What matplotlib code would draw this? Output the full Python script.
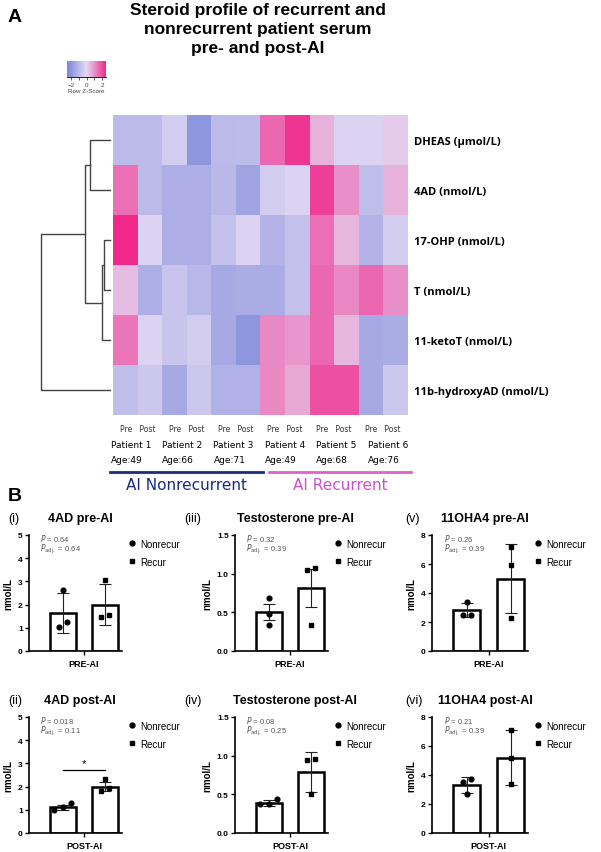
import numpy as np
import matplotlib
matplotlib.use("Agg")
import matplotlib.pyplot as plt
from matplotlib.colors import LinearSegmentedColormap
from matplotlib.lines import Line2D

# ---- heatmap data (row z-scores) ----
steroids = ["DHEAS (µmol/L)", "4AD (nmol/L)", "17-OHP (nmol/L)", "T (nmol/L)",
            "11-ketoT (nmol/L)", "11b-hydroxyAD (nmol/L)"]
patients = ["Patient 1", "Patient 2", "Patient 3", "Patient 4", "Patient 5", "Patient 6"]
ages = [49, 66, 71, 49, 68, 76]
zscores = [
    [-0.95, -0.95, -0.40, -2.00, -0.95, -0.90, 1.60, 2.30, 0.55, -0.20, -0.20, 0.20],
    [1.50, -0.95, -1.30, -1.30, -1.00, -1.60, -0.40, -0.20, 2.15, 1.05, -0.85, 0.55],
    [2.50, -0.20, -1.30, -1.30, -0.75, -0.20, -1.15, -0.75, 1.50, 0.50, -1.15, -0.40],
    [0.42, -1.30, -0.65, -1.05, -1.45, -1.35, -1.35, -0.75, 1.60, 1.15, 1.60, 1.05],
    [1.40, -0.20, -0.65, -0.40, -1.45, -2.00, 1.15, 0.95, 1.60, 0.50, -1.45, -1.35],
    [-0.85, -0.55, -1.45, -0.55, -1.20, -1.20, 1.15, 0.70, 1.95, 1.95, -1.45, -0.55],
]
# row dendrogram: (left node, right node, merge height)
linkage = [(2, 3, 0.6), (6, 4, 0.8), (0, 1, 2.1), (8, 7, 2.6), (9, 5, 7.2)]

# ---- bar panel data, order (i)..(vi) ----
numerals = ["(i)", "(ii)", "(iii)", "(iv)", "(v)", "(vi)"]
panel_titles = ["4AD pre-AI", "4AD post-AI", "Testosterone pre-AI", "Testosterone post-AI",
                "11OHA4 pre-AI", "11OHA4 post-AI"]
x_labels = ["PRE-AI", "POST-AI", "PRE-AI", "POST-AI", "PRE-AI", "POST-AI"]
nonrec_mean = [1.65, 1.10, 0.50, 0.39, 2.80, 3.30]
nonrec_err = [0.87, 0.10, 0.105, 0.04, 0.48, 0.55]
recur_mean = [2.00, 2.00, 0.82, 0.79, 5.00, 5.20]
recur_err = [0.88, 0.18, 0.245, 0.26, 2.40, 1.87]
nonrec_pts = [[2.65, 1.25, 1.05], [1.28, 0.97, 1.10], [0.69, 0.48, 0.33],
              [0.44, 0.37, 0.38], [3.40, 2.50, 2.50], [3.70, 3.55, 2.70]]
recur_pts = [[3.05, 1.55, 1.45], [2.33, 1.95, 1.82], [1.07, 1.05, 0.34],
             [0.96, 0.95, 0.50], [7.20, 5.90, 2.30], [7.10, 5.20, 3.35]]
p_vals = ["0.64", "0.018", "0.32", "0.08", "0.26", "0.21"]
padj_vals = ["0.64", "0.11", "0.39", "0.25", "0.39", "0.39"]
y_max = [5, 5, 1.5, 1.5, 8, 8]
y_step = [1, 1, 0.5, 0.5, 2, 2]
sig_marks = [None, "*", None, None, None, None]
sig_level = [None, 2.7, None, None, None, None]

W, H = 601, 853
fig = plt.figure(figsize=(W / 100, H / 100), dpi=100)
plt.rcParams["font.family"] = ["Liberation Sans", "DejaVu Sans"]


def ax_px(x0, y0, x1, y1):
    return fig.add_axes([x0 / W, 1 - y1 / H, (x1 - x0) / W, (y1 - y0) / H])


def txt(x, y, s, **kw):
    fig.text(x / W, 1 - y / H, s, **kw)


def hline(x0, x1, y, **kw):
    fig.add_artist(Line2D([x0 / W, x1 / W], [1 - y / H, 1 - y / H],
                          transform=fig.transFigure, **kw))


cmap = LinearSegmentedColormap.from_list("zs", ["#7a87d8", "#e4daf4", "#f0288a"])

# ---------------- panel A ----------------
txt(8, 17, "A", fontsize=14, fontweight="bold", va="center")
for i, line in enumerate(["Steroid profile of recurrent and",
                          "nonrecurrent patient serum", "pre- and post-AI"]):
    txt(258, 10 + i * 19.5, line, fontsize=12.5, fontweight="bold", ha="center", va="center")

cb = ax_px(67, 62, 106, 78)
cb.imshow(np.linspace(-2.5, 2.5, 200).reshape(1, -1), cmap=cmap, aspect="auto",
          extent=(-2.5, 2.5, 0, 1))
cb.set_yticks([])
cb.set_xticks([-2, -1, 0, 1, 2])
cb.set_xticklabels(["\u22122", "", "0", "", "2"], fontsize=4.5, color="#444")
cb.tick_params(axis="x", length=2, width=0.6, pad=1.5, color="#444")
for s in ["top", "left", "right"]:
    cb.spines[s].set_visible(False)
cb.spines["bottom"].set_linewidth(0.6)
cb.set_xlabel("Row Z-Score", fontsize=4.5, color="#444", labelpad=1)

hm = ax_px(113, 116, 407, 416)
hm.imshow(np.array(zscores), cmap=cmap, vmin=-2.5, vmax=2.5, aspect="auto",
          interpolation="nearest")
hm.set_xticks([])
hm.yaxis.tick_right()
hm.set_yticks(range(len(steroids)))
hm.set_yticklabels(steroids, fontsize=8, fontweight="bold", family="Open Sans")
hm.tick_params(axis="y", length=0, pad=5)
for s in hm.spines.values():
    s.set_visible(False)
for k, (pat, age) in enumerate(zip(patients, ages)):
    cx = 2 * k + 0.5
    left = 2 * k - 0.6 + 0.1 * k
    hm.text(cx, 5.78, "Pre   Post", fontsize=5.5, ha="center", va="center", color="#333",
            family="DejaVu Sans")
    hm.text(left, 6.1, pat, fontsize=6.5, ha="left", va="center", family="DejaVu Sans")
    hm.text(left, 6.4, f"Age:{age}", fontsize=6.5, ha="left", va="center",
            family="DejaVu Sans")

dn = ax_px(38, 116, 113, 416)
pos = {i: (0.0, float(i)) for i in range(len(steroids))}
for n, (a, b, h) in enumerate(linkage):
    ha_, ya = pos[a]
    hb, yb = pos[b]
    dn.plot([ha_, h, h, hb], [ya, ya, yb, yb], color="#444", lw=1)
    pos[len(steroids) + n] = (h, (ya + yb) / 2)
dn.set_xlim(7.5, -0.3)
dn.set_ylim(len(steroids) - 0.5, -0.5)
dn.axis("off")

hline(110, 263, 473, color="#1c2a80", lw=2)
hline(269, 411, 473, color="#e063c4", lw=2)
txt(187, 486, "AI Nonrecurrent", fontsize=11, ha="center", va="center",
    color="#1c2a80", family="DejaVu Sans")
txt(340, 486, "AI Recurrent", fontsize=11, ha="center", va="center",
    color="#d050cc", family="DejaVu Sans")

# ---------------- panel B ----------------
txt(8, 497, "B", fontsize=14, fontweight="bold", va="center")
col_x = [(29, 122), (235, 328), (432, 528)]
row_y = [(536, 652), (718, 834)]
num_x = [8, 184, 405]
title_x = [80, 295, 485]


def spread(vals, tol):
    # horizontal offsets for points whose values sit close together
    offs = [0.0] * len(vals)
    order = np.argsort(vals)
    groups, cur = [], [order[0]]
    for j in order[1:]:
        if abs(vals[j] - vals[cur[-1]]) < tol:
            cur.append(j)
        else:
            groups.append(cur)
            cur = [j]
    groups.append(cur)
    for g in groups:
        for m, j in enumerate(g):
            offs[j] = (m - (len(g) - 1) / 2) * 0.2
    return offs


for i in range(6):
    c, r = i // 2, i % 2
    x0, x1 = col_x[c]
    y0, y1 = row_y[r]
    ax = ax_px(x0, y0, x1, y1)
    txt(num_x[c], y0 - 17, numerals[i], fontsize=9, va="center")
    txt(title_x[c], y0 - 17, panel_titles[i], fontsize=9, fontweight="bold",
        ha="center", va="center")

    xs = [-0.5, 0.5]
    means = [nonrec_mean[i], recur_mean[i]]
    errs = [nonrec_err[i], recur_err[i]]
    ax.bar(xs, means, width=0.62, color="white", edgecolor="black", linewidth=1.8, zorder=2)
    ax.errorbar(xs, means, yerr=errs, fmt="none", ecolor="#222", elinewidth=0.8,
                capsize=4.5, capthick=0.8, zorder=3)
    tol = y_max[i] * 0.045
    for xc, pts, mk, ms in [(xs[0], nonrec_pts[i], "o", 3.4), (xs[1], recur_pts[i], "s", 3.4)]:
        offs = spread(pts, tol)
        ax.plot([xc + o for o in offs], pts, mk, color="black", ms=ms, zorder=4, ls="none")
    if sig_marks[i]:
        ax.plot(xs, [sig_level[i]] * 2, color="black", lw=0.9)
        ax.text(0, sig_level[i] + y_max[i] * 0.02, sig_marks[i], ha="center", va="bottom",
                fontsize=8)

    ax.set_xlim(-1.3, 0.9)
    ax.set_ylim(0, y_max[i])
    ticks = np.arange(0, y_max[i] + 1e-9, y_step[i])
    ax.set_yticks(ticks)
    if y_step[i] < 1:
        ax.set_yticklabels([f"{t:.1f}" for t in ticks])
    else:
        ax.set_yticklabels([f"{t:.0f}" for t in ticks])
    ax.set_xticks([0])
    ax.set_xticklabels([x_labels[i]], fontsize=6.5, fontweight="bold")
    ax.tick_params(axis="y", labelsize=6, length=3, width=1, pad=1.5)
    ax.tick_params(axis="x", length=3, width=1, pad=3)
    for lab in ax.get_yticklabels():
        lab.set_fontweight("bold")
    ax.set_ylabel("nmol/L", fontsize=7, fontweight="bold", labelpad=3)
    for s in ["top", "right"]:
        ax.spines[s].set_visible(False)
    for s in ["left", "bottom"]:
        ax.spines[s].set_linewidth(1.2)

    ax.text(0.12, 0.98, rf"$\it{{P}}$ = {p_vals[i]}", transform=ax.transAxes,
            fontsize=5.5, color="#555", va="center")
    ax.text(0.12, 0.88, rf"$P_{{\rm adj.}}$ = {padj_vals[i]}", transform=ax.transAxes,
            fontsize=5.5, color="#555", va="center")
    handles = [Line2D([], [], marker="o", color="black", ls="none", ms=3.5),
               Line2D([], [], marker="s", color="black", ls="none", ms=3.5)]
    ax.legend(handles, ["Nonrecur", "Recur"], loc="upper left", bbox_to_anchor=(1.02, 1.0),
              frameon=False, fontsize=7, handlelength=0.8, handletextpad=0.5,
              labelspacing=0.8, borderaxespad=0)

fig.savefig("out.png", dpi=100)
